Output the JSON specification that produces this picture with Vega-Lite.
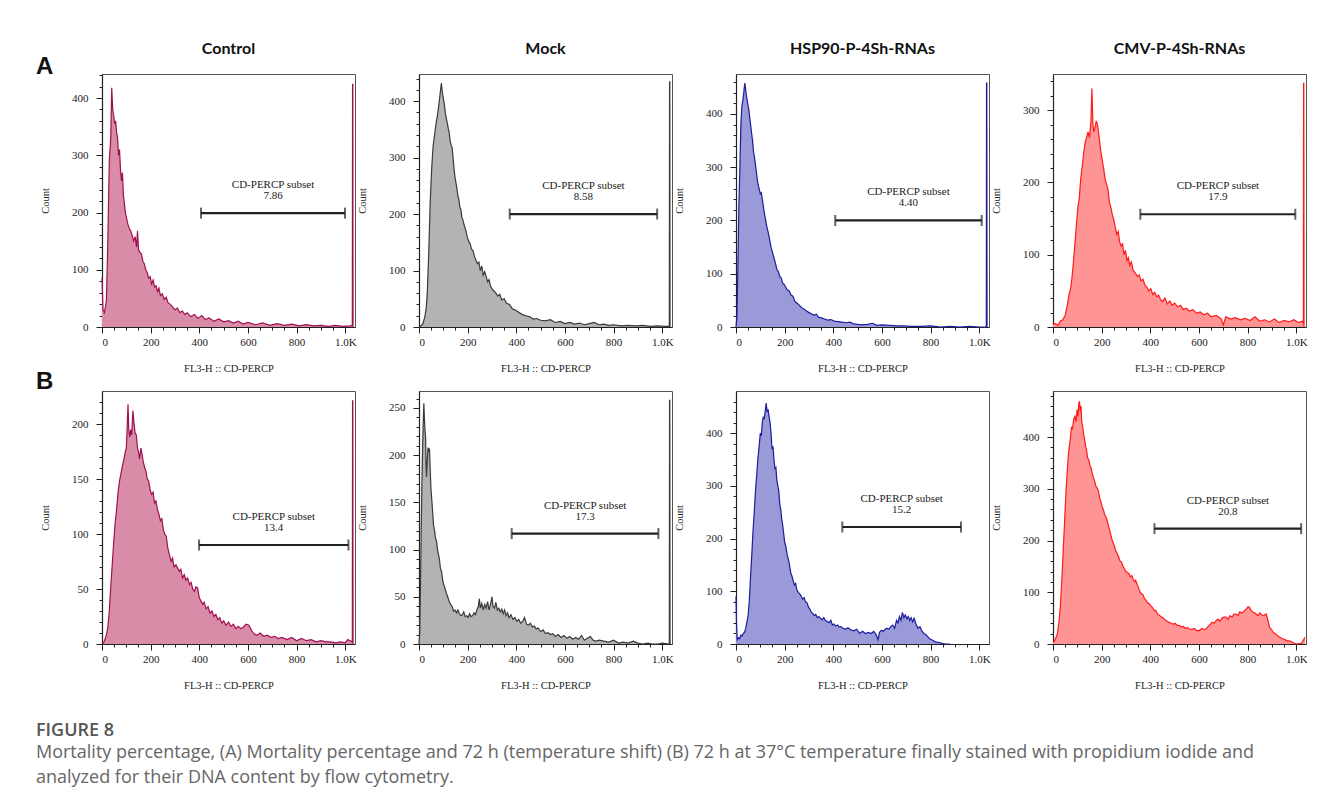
{
"$schema": "https://vega.github.io/schema/vega-lite/v6.json",
"background": "white",
"padding": {"left": 36, "top": 40, "right": 5, "bottom": 5},
"config": {
  "view": {"stroke": "#555", "strokeWidth": 1},
  "axis": {"labelFont": "'Liberation Serif', 'DejaVu Serif', serif", "labelFontSize": 11, "labelColor": "#222", "titleFont": "'Liberation Serif', 'DejaVu Serif', serif", "titleFontSize": 10.5, "titleFontWeight": "normal", "titleColor": "#222", "domainColor": "#222", "tickColor": "#222", "grid": false, "tickSize": 6, "domainWidth": 1.2, "zindex": 1},
  "axisY": {"labelPadding": 8, "titlePadding": 21},
  "axisX": {"labelPadding": 3, "titlePadding": 16},
  "title": {"font": "Lato", "fontSize": 16, "fontWeight": "bold", "color": "#111", "offset": 17}
},
"title": {"text": "FIGURE 8", "subtitle": ["Mortality percentage, (A) Mortality percentage and 72 h (temperature shift) (B) 72 h at 37°C temperature finally stained with propidium iodide and", "analyzed for their DNA content by flow cytometry."], "orient": "bottom", "anchor": "start", "frame": "bounds", "font": "Open Sans", "fontSize": 18, "fontWeight": 600, "color": "#555", "subtitleFont": "Open Sans", "subtitleFontSize": 18, "subtitleColor": "#666", "subtitleLineHeight": 25, "subtitlePadding": 4, "offset": 31},
"datasets": {
"A1": [{"x":0,"y":86},{"x":4,"y":30},{"x":10,"y":25},{"x":18,"y":45},{"x":24,"y":150},{"x":30,"y":290},{"x":36,"y":330},{"x":40,"y":418},{"x":44,"y":380},{"x":48,"y":370},{"x":52,"y":355},{"x":56,"y":360},{"x":60,"y":340},{"x":64,"y":330},{"x":68,"y":300},{"x":72,"y":310},{"x":76,"y":275},{"x":80,"y":255},{"x":84,"y":270},{"x":88,"y":230},{"x":92,"y":215},{"x":96,"y":200},{"x":100,"y":192},{"x":106,"y":180},{"x":112,"y":172},{"x":118,"y":168},{"x":124,"y":160},{"x":130,"y":150},{"x":136,"y":158},{"x":142,"y":140},{"x":146,"y":168},{"x":150,"y":135},{"x":156,"y":130},{"x":162,"y":128},{"x":168,"y":115},{"x":174,"y":110},{"x":180,"y":100},{"x":186,"y":95},{"x":192,"y":85},{"x":198,"y":88},{"x":204,"y":75},{"x":210,"y":82},{"x":216,"y":70},{"x":222,"y":72},{"x":228,"y":62},{"x":234,"y":68},{"x":240,"y":55},{"x":248,"y":58},{"x":256,"y":48},{"x":264,"y":52},{"x":272,"y":42},{"x":280,"y":40},{"x":290,"y":35},{"x":300,"y":30},{"x":310,"y":33},{"x":320,"y":25},{"x":330,"y":28},{"x":340,"y":22},{"x":350,"y":25},{"x":365,"y":18},{"x":380,"y":22},{"x":395,"y":15},{"x":410,"y":20},{"x":425,"y":13},{"x":440,"y":16},{"x":460,"y":10},{"x":480,"y":14},{"x":500,"y":9},{"x":520,"y":11},{"x":540,"y":7},{"x":560,"y":10},{"x":580,"y":5},{"x":600,"y":8},{"x":630,"y":4},{"x":660,"y":7},{"x":690,"y":3},{"x":720,"y":6},{"x":750,"y":3},{"x":780,"y":5},{"x":810,"y":2},{"x":840,"y":4},{"x":870,"y":2},{"x":900,"y":3},{"x":930,"y":1},{"x":960,"y":3},{"x":990,"y":1},{"x":1020,"y":2},{"x":1029,"y":3},{"x":1030,"y":424},{"x":1031,"y":424},{"x":1032,"y":0}],
"A2": [{"x":0,"y":0},{"x":8,"y":2},{"x":16,"y":6},{"x":24,"y":18},{"x":30,"y":35},{"x":34,"y":60},{"x":40,"y":130},{"x":46,"y":220},{"x":52,"y":280},{"x":58,"y":320},{"x":64,"y":340},{"x":70,"y":360},{"x":76,"y":375},{"x":82,"y":395},{"x":86,"y":410},{"x":90,"y":425},{"x":92,"y":432},{"x":96,"y":415},{"x":100,"y":405},{"x":104,"y":395},{"x":108,"y":380},{"x":112,"y":370},{"x":116,"y":362},{"x":120,"y":352},{"x":124,"y":345},{"x":128,"y":330},{"x":132,"y":322},{"x":136,"y":318},{"x":140,"y":300},{"x":144,"y":280},{"x":148,"y":265},{"x":152,"y":255},{"x":156,"y":245},{"x":160,"y":232},{"x":164,"y":225},{"x":168,"y":212},{"x":172,"y":208},{"x":176,"y":195},{"x":180,"y":190},{"x":186,"y":180},{"x":192,"y":172},{"x":198,"y":160},{"x":204,"y":152},{"x":210,"y":148},{"x":216,"y":138},{"x":222,"y":135},{"x":228,"y":125},{"x":234,"y":118},{"x":240,"y":112},{"x":246,"y":115},{"x":252,"y":100},{"x":258,"y":108},{"x":264,"y":92},{"x":270,"y":98},{"x":276,"y":90},{"x":282,"y":80},{"x":288,"y":84},{"x":294,"y":72},{"x":300,"y":68},{"x":308,"y":64},{"x":316,"y":60},{"x":324,"y":55},{"x":332,"y":58},{"x":340,"y":48},{"x":350,"y":50},{"x":360,"y":42},{"x":372,"y":40},{"x":384,"y":32},{"x":396,"y":30},{"x":410,"y":26},{"x":425,"y":22},{"x":440,"y":20},{"x":455,"y":18},{"x":470,"y":14},{"x":485,"y":15},{"x":500,"y":12},{"x":520,"y":11},{"x":540,"y":13},{"x":560,"y":8},{"x":580,"y":10},{"x":600,"y":6},{"x":620,"y":8},{"x":640,"y":5},{"x":660,"y":7},{"x":680,"y":4},{"x":700,"y":6},{"x":720,"y":8},{"x":740,"y":4},{"x":760,"y":5},{"x":780,"y":3},{"x":800,"y":4},{"x":830,"y":2},{"x":860,"y":3},{"x":890,"y":2},{"x":920,"y":3},{"x":950,"y":1},{"x":980,"y":2},{"x":1010,"y":1},{"x":1029,"y":1},{"x":1030,"y":434},{"x":1031,"y":434},{"x":1032,"y":0}],
"A3": [{"x":0,"y":0},{"x":4,"y":20},{"x":8,"y":120},{"x":12,"y":230},{"x":16,"y":300},{"x":20,"y":380},{"x":24,"y":414},{"x":28,"y":425},{"x":32,"y":440},{"x":36,"y":458},{"x":40,"y":445},{"x":44,"y":430},{"x":48,"y":420},{"x":52,"y":410},{"x":56,"y":395},{"x":60,"y":380},{"x":64,"y":364},{"x":68,"y":350},{"x":72,"y":330},{"x":76,"y":318},{"x":80,"y":305},{"x":84,"y":290},{"x":88,"y":275},{"x":92,"y":265},{"x":96,"y":258},{"x":100,"y":250},{"x":104,"y":252},{"x":108,"y":240},{"x":112,"y":228},{"x":116,"y":215},{"x":120,"y":205},{"x":126,"y":190},{"x":132,"y":178},{"x":138,"y":165},{"x":144,"y":150},{"x":150,"y":140},{"x":156,"y":130},{"x":162,"y":120},{"x":168,"y":108},{"x":174,"y":104},{"x":180,"y":95},{"x":186,"y":92},{"x":192,"y":82},{"x":198,"y":80},{"x":204,"y":75},{"x":210,"y":70},{"x":218,"y":68},{"x":226,"y":60},{"x":234,"y":58},{"x":242,"y":48},{"x":250,"y":45},{"x":258,"y":42},{"x":266,"y":38},{"x":274,"y":35},{"x":282,"y":33},{"x":290,"y":30},{"x":300,"y":27},{"x":310,"y":25},{"x":320,"y":22},{"x":330,"y":24},{"x":340,"y":18},{"x":352,"y":17},{"x":364,"y":15},{"x":376,"y":13},{"x":390,"y":14},{"x":404,"y":11},{"x":420,"y":10},{"x":436,"y":9},{"x":452,"y":8},{"x":468,"y":9},{"x":484,"y":6},{"x":500,"y":5},{"x":520,"y":4},{"x":540,"y":5},{"x":560,"y":7},{"x":580,"y":3},{"x":600,"y":4},{"x":630,"y":3},{"x":660,"y":2},{"x":690,"y":2},{"x":720,"y":1},{"x":760,"y":1},{"x":800,"y":2},{"x":840,"y":0},{"x":880,"y":1},{"x":920,"y":0},{"x":960,"y":1},{"x":1000,"y":0},{"x":1029,"y":0},{"x":1030,"y":458},{"x":1031,"y":458},{"x":1032,"y":0}],
"A4": [{"x":0,"y":3},{"x":10,"y":5},{"x":20,"y":2},{"x":30,"y":8},{"x":40,"y":10},{"x":50,"y":16},{"x":60,"y":32},{"x":66,"y":45},{"x":72,"y":52},{"x":78,"y":68},{"x":84,"y":90},{"x":90,"y":115},{"x":96,"y":140},{"x":102,"y":165},{"x":108,"y":178},{"x":114,"y":205},{"x":120,"y":222},{"x":126,"y":240},{"x":132,"y":255},{"x":138,"y":262},{"x":144,"y":270},{"x":150,"y":262},{"x":156,"y":285},{"x":160,"y":330},{"x":164,"y":280},{"x":168,"y":270},{"x":172,"y":275},{"x":178,"y":285},{"x":184,"y":278},{"x":190,"y":262},{"x":196,"y":244},{"x":202,"y":232},{"x":208,"y":220},{"x":214,"y":205},{"x":220,"y":198},{"x":226,"y":190},{"x":232,"y":172},{"x":238,"y":165},{"x":244,"y":155},{"x":250,"y":148},{"x":256,"y":138},{"x":262,"y":128},{"x":268,"y":132},{"x":274,"y":118},{"x":280,"y":112},{"x":286,"y":115},{"x":292,"y":100},{"x":298,"y":106},{"x":304,"y":92},{"x":310,"y":96},{"x":316,"y":85},{"x":322,"y":90},{"x":330,"y":78},{"x":338,"y":75},{"x":346,"y":70},{"x":354,"y":72},{"x":362,"y":64},{"x":370,"y":66},{"x":378,"y":58},{"x":386,"y":55},{"x":394,"y":50},{"x":402,"y":53},{"x":410,"y":45},{"x":418,"y":48},{"x":426,"y":42},{"x":434,"y":44},{"x":442,"y":38},{"x":450,"y":35},{"x":460,"y":40},{"x":470,"y":32},{"x":480,"y":36},{"x":490,"y":30},{"x":500,"y":33},{"x":512,"y":28},{"x":524,"y":30},{"x":536,"y":24},{"x":548,"y":26},{"x":560,"y":22},{"x":575,"y":24},{"x":590,"y":19},{"x":605,"y":21},{"x":620,"y":17},{"x":635,"y":19},{"x":650,"y":14},{"x":670,"y":16},{"x":690,"y":12},{"x":700,"y":3},{"x":710,"y":14},{"x":730,"y":11},{"x":750,"y":13},{"x":770,"y":10},{"x":790,"y":12},{"x":810,"y":9},{"x":830,"y":14},{"x":850,"y":8},{"x":870,"y":10},{"x":890,"y":7},{"x":910,"y":11},{"x":930,"y":6},{"x":950,"y":9},{"x":970,"y":7},{"x":990,"y":10},{"x":1010,"y":6},{"x":1025,"y":8},{"x":1029,"y":5},{"x":1030,"y":337},{"x":1031,"y":337},{"x":1032,"y":0}],
"B1": [{"x":0,"y":0},{"x":6,"y":1},{"x":12,"y":4},{"x":18,"y":8},{"x":24,"y":15},{"x":30,"y":30},{"x":36,"y":52},{"x":42,"y":72},{"x":48,"y":92},{"x":54,"y":110},{"x":60,"y":122},{"x":66,"y":138},{"x":72,"y":148},{"x":78,"y":155},{"x":84,"y":162},{"x":90,"y":168},{"x":96,"y":175},{"x":100,"y":178},{"x":104,"y":200},{"x":107,"y":218},{"x":110,"y":195},{"x":114,"y":188},{"x":118,"y":195},{"x":122,"y":190},{"x":127,"y":212},{"x":132,"y":200},{"x":136,"y":192},{"x":141,"y":190},{"x":146,"y":178},{"x":150,"y":175},{"x":154,"y":168},{"x":160,"y":178},{"x":165,"y":172},{"x":170,"y":165},{"x":176,"y":160},{"x":181,"y":157},{"x":186,"y":150},{"x":192,"y":148},{"x":198,"y":140},{"x":204,"y":136},{"x":210,"y":138},{"x":216,"y":128},{"x":222,"y":130},{"x":228,"y":122},{"x":234,"y":118},{"x":240,"y":112},{"x":246,"y":114},{"x":252,"y":104},{"x":258,"y":100},{"x":264,"y":98},{"x":270,"y":88},{"x":276,"y":82},{"x":284,"y":75},{"x":290,"y":78},{"x":296,"y":70},{"x":304,"y":72},{"x":311,"y":69},{"x":318,"y":66},{"x":324,"y":68},{"x":331,"y":60},{"x":338,"y":63},{"x":345,"y":58},{"x":352,"y":60},{"x":360,"y":54},{"x":366,"y":56},{"x":373,"y":50},{"x":380,"y":48},{"x":386,"y":52},{"x":393,"y":51},{"x":400,"y":42},{"x":407,"y":39},{"x":414,"y":36},{"x":420,"y":38},{"x":428,"y":32},{"x":436,"y":34},{"x":444,"y":28},{"x":452,"y":30},{"x":460,"y":25},{"x":468,"y":27},{"x":476,"y":22},{"x":484,"y":24},{"x":492,"y":19},{"x":500,"y":21},{"x":510,"y":17},{"x":520,"y":20},{"x":530,"y":16},{"x":540,"y":18},{"x":550,"y":14},{"x":560,"y":16},{"x":570,"y":14},{"x":580,"y":15},{"x":592,"y":18},{"x":604,"y":17},{"x":615,"y":12},{"x":626,"y":9},{"x":638,"y":8},{"x":650,"y":10},{"x":665,"y":7},{"x":680,"y":8},{"x":695,"y":6},{"x":710,"y":7},{"x":725,"y":5},{"x":740,"y":6},{"x":760,"y":4},{"x":780,"y":6},{"x":800,"y":3},{"x":820,"y":5},{"x":840,"y":3},{"x":860,"y":4},{"x":880,"y":2},{"x":900,"y":3},{"x":920,"y":2},{"x":940,"y":2},{"x":960,"y":1},{"x":980,"y":2},{"x":1000,"y":1},{"x":1010,"y":4},{"x":1020,"y":3},{"x":1029,"y":2},{"x":1030,"y":221},{"x":1031,"y":221},{"x":1032,"y":0}],
"B2": [{"x":0,"y":0},{"x":3,"y":10},{"x":6,"y":60},{"x":9,"y":120},{"x":12,"y":170},{"x":15,"y":210},{"x":18,"y":240},{"x":20,"y":255},{"x":22,"y":240},{"x":25,"y":225},{"x":27,"y":219},{"x":29,"y":190},{"x":31,"y":177},{"x":34,"y":195},{"x":37,"y":208},{"x":40,"y":205},{"x":43,"y":207},{"x":46,"y":185},{"x":49,"y":165},{"x":52,"y":155},{"x":56,"y":140},{"x":60,"y":125},{"x":64,"y":120},{"x":68,"y":112},{"x":72,"y":109},{"x":76,"y":100},{"x":80,"y":95},{"x":84,"y":90},{"x":88,"y":80},{"x":92,"y":78},{"x":96,"y":70},{"x":100,"y":64},{"x":106,"y":60},{"x":112,"y":54},{"x":118,"y":50},{"x":124,"y":45},{"x":130,"y":42},{"x":136,"y":40},{"x":142,"y":35},{"x":148,"y":36},{"x":154,"y":33},{"x":160,"y":36},{"x":166,"y":32},{"x":172,"y":30},{"x":178,"y":31},{"x":184,"y":34},{"x":190,"y":29},{"x":196,"y":30},{"x":202,"y":28},{"x":208,"y":32},{"x":214,"y":29},{"x":220,"y":30},{"x":226,"y":33},{"x":232,"y":31},{"x":238,"y":36},{"x":244,"y":40},{"x":248,"y":48},{"x":252,"y":38},{"x":258,"y":43},{"x":264,"y":36},{"x":270,"y":42},{"x":276,"y":38},{"x":282,"y":45},{"x":288,"y":36},{"x":294,"y":42},{"x":300,"y":50},{"x":304,"y":40},{"x":310,"y":38},{"x":316,"y":44},{"x":322,"y":36},{"x":328,"y":38},{"x":334,"y":34},{"x":340,"y":37},{"x":346,"y":32},{"x":352,"y":36},{"x":358,"y":30},{"x":364,"y":33},{"x":370,"y":28},{"x":378,"y":31},{"x":386,"y":26},{"x":394,"y":28},{"x":402,"y":24},{"x":410,"y":26},{"x":418,"y":22},{"x":426,"y":24},{"x":434,"y":28},{"x":442,"y":21},{"x":450,"y":20},{"x":458,"y":22},{"x":466,"y":18},{"x":474,"y":19},{"x":482,"y":16},{"x":490,"y":17},{"x":500,"y":13},{"x":510,"y":15},{"x":520,"y":11},{"x":530,"y":12},{"x":540,"y":10},{"x":550,"y":11},{"x":560,"y":8},{"x":572,"y":10},{"x":584,"y":7},{"x":596,"y":9},{"x":608,"y":6},{"x":620,"y":8},{"x":632,"y":5},{"x":644,"y":7},{"x":656,"y":5},{"x":668,"y":9},{"x":680,"y":4},{"x":692,"y":6},{"x":704,"y":8},{"x":716,"y":4},{"x":728,"y":3},{"x":740,"y":4},{"x":760,"y":3},{"x":780,"y":2},{"x":800,"y":4},{"x":820,"y":1},{"x":840,"y":2},{"x":860,"y":1},{"x":880,"y":3},{"x":900,"y":1},{"x":920,"y":0},{"x":940,"y":1},{"x":960,"y":0},{"x":980,"y":0},{"x":1000,"y":1},{"x":1029,"y":0},{"x":1030,"y":258},{"x":1031,"y":258},{"x":1032,"y":0}],
"B3": [{"x":0,"y":90},{"x":2,"y":40},{"x":5,"y":8},{"x":10,"y":12},{"x":15,"y":10},{"x":20,"y":17},{"x":25,"y":15},{"x":30,"y":20},{"x":35,"y":22},{"x":40,"y":30},{"x":45,"y":42},{"x":50,"y":55},{"x":55,"y":85},{"x":60,"y":130},{"x":65,"y":170},{"x":70,"y":215},{"x":75,"y":250},{"x":80,"y":290},{"x":85,"y":320},{"x":90,"y":352},{"x":95,"y":375},{"x":100,"y":400},{"x":104,"y":395},{"x":108,"y":420},{"x":112,"y":430},{"x":116,"y":428},{"x":120,"y":441},{"x":124,"y":457},{"x":128,"y":440},{"x":132,"y":445},{"x":136,"y":432},{"x":140,"y":420},{"x":144,"y":400},{"x":148,"y":370},{"x":152,"y":375},{"x":156,"y":350},{"x":160,"y":333},{"x":164,"y":335},{"x":168,"y":310},{"x":172,"y":300},{"x":176,"y":290},{"x":180,"y":265},{"x":184,"y":255},{"x":188,"y":237},{"x":192,"y":225},{"x":196,"y":210},{"x":200,"y":193},{"x":205,"y":185},{"x":210,"y":170},{"x":215,"y":161},{"x":220,"y":150},{"x":225,"y":135},{"x":230,"y":129},{"x":235,"y":120},{"x":240,"y":112},{"x":245,"y":115},{"x":250,"y":103},{"x":256,"y":98},{"x":262,"y":95},{"x":268,"y":91},{"x":274,"y":85},{"x":280,"y":88},{"x":286,"y":80},{"x":292,"y":78},{"x":298,"y":70},{"x":304,"y":66},{"x":310,"y":60},{"x":316,"y":58},{"x":322,"y":54},{"x":328,"y":56},{"x":334,"y":50},{"x":340,"y":52},{"x":347,"y":49},{"x":354,"y":46},{"x":361,"y":50},{"x":368,"y":44},{"x":375,"y":43},{"x":382,"y":40},{"x":390,"y":45},{"x":396,"y":36},{"x":403,"y":38},{"x":410,"y":34},{"x":418,"y":36},{"x":424,"y":32},{"x":431,"y":33},{"x":440,"y":30},{"x":450,"y":28},{"x":460,"y":31},{"x":472,"y":27},{"x":484,"y":25},{"x":496,"y":28},{"x":508,"y":20},{"x":520,"y":24},{"x":532,"y":20},{"x":544,"y":22},{"x":556,"y":20},{"x":566,"y":24},{"x":576,"y":18},{"x":584,"y":8},{"x":590,"y":22},{"x":598,"y":26},{"x":605,"y":24},{"x":611,"y":27},{"x":620,"y":30},{"x":628,"y":28},{"x":636,"y":33},{"x":644,"y":36},{"x":652,"y":30},{"x":660,"y":45},{"x":666,"y":40},{"x":672,"y":52},{"x":678,"y":45},{"x":684,"y":60},{"x":690,"y":50},{"x":696,"y":55},{"x":702,"y":48},{"x":708,"y":52},{"x":714,"y":45},{"x":720,"y":50},{"x":726,"y":42},{"x":732,"y":49},{"x":740,"y":38},{"x":748,"y":30},{"x":756,"y":33},{"x":764,"y":25},{"x":772,"y":20},{"x":780,"y":18},{"x":788,"y":14},{"x":796,"y":10},{"x":804,"y":8},{"x":812,"y":6},{"x":820,"y":4},{"x":830,"y":3},{"x":840,"y":2},{"x":850,"y":1},{"x":860,"y":0},{"x":880,"y":0}],
"B4": [{"x":0,"y":3},{"x":6,"y":6},{"x":12,"y":12},{"x":18,"y":20},{"x":24,"y":40},{"x":30,"y":71},{"x":36,"y":120},{"x":42,"y":180},{"x":48,"y":240},{"x":54,"y":300},{"x":58,"y":330},{"x":64,"y":370},{"x":68,"y":385},{"x":72,"y":400},{"x":76,"y":420},{"x":80,"y":415},{"x":85,"y":434},{"x":90,"y":440},{"x":95,"y":430},{"x":99,"y":453},{"x":103,"y":440},{"x":106,"y":465},{"x":109,"y":469},{"x":112,"y":450},{"x":115,"y":460},{"x":118,"y":430},{"x":122,"y":420},{"x":126,"y":405},{"x":130,"y":395},{"x":134,"y":382},{"x":138,"y":375},{"x":142,"y":360},{"x":147,"y":356},{"x":152,"y":345},{"x":157,"y":340},{"x":161,"y":330},{"x":166,"y":322},{"x":171,"y":315},{"x":176,"y":305},{"x":182,"y":301},{"x":187,"y":295},{"x":192,"y":282},{"x":197,"y":275},{"x":202,"y":265},{"x":207,"y":260},{"x":212,"y":250},{"x":218,"y":245},{"x":223,"y":239},{"x":228,"y":228},{"x":233,"y":220},{"x":238,"y":210},{"x":243,"y":201},{"x":248,"y":195},{"x":253,"y":188},{"x":258,"y":180},{"x":264,"y":175},{"x":270,"y":168},{"x":276,"y":160},{"x":282,"y":158},{"x":288,"y":150},{"x":294,"y":145},{"x":300,"y":140},{"x":306,"y":138},{"x":312,"y":136},{"x":318,"y":130},{"x":324,"y":132},{"x":330,"y":125},{"x":336,"y":120},{"x":340,"y":123},{"x":346,"y":115},{"x":352,"y":108},{"x":358,"y":100},{"x":364,"y":97},{"x":370,"y":95},{"x":376,"y":88},{"x":382,"y":85},{"x":388,"y":80},{"x":395,"y":78},{"x":402,"y":74},{"x":410,"y":70},{"x":416,"y":65},{"x":422,"y":65},{"x":430,"y":58},{"x":438,"y":55},{"x":446,"y":52},{"x":454,"y":50},{"x":462,"y":46},{"x":470,"y":44},{"x":477,"y":42},{"x":486,"y":40},{"x":494,"y":38},{"x":502,"y":40},{"x":510,"y":36},{"x":519,"y":36},{"x":528,"y":33},{"x":536,"y":34},{"x":544,"y":30},{"x":552,"y":32},{"x":560,"y":29},{"x":570,"y":28},{"x":580,"y":30},{"x":590,"y":26},{"x":601,"y":26},{"x":612,"y":30},{"x":622,"y":28},{"x":629,"y":29},{"x":638,"y":34},{"x":646,"y":38},{"x":654,"y":42},{"x":662,"y":40},{"x":670,"y":45},{"x":678,"y":48},{"x":686,"y":44},{"x":694,"y":50},{"x":702,"y":52},{"x":711,"y":52},{"x":720,"y":48},{"x":728,"y":55},{"x":736,"y":52},{"x":744,"y":58},{"x":752,"y":58},{"x":760,"y":55},{"x":768,"y":62},{"x":776,"y":60},{"x":780,"y":61},{"x":788,"y":65},{"x":796,"y":68},{"x":802,"y":72},{"x":807,"y":71},{"x":814,"y":65},{"x":822,"y":62},{"x":830,"y":60},{"x":835,"y":58},{"x":842,"y":55},{"x":850,"y":60},{"x":858,"y":56},{"x":866,"y":55},{"x":876,"y":58},{"x":884,"y":45},{"x":890,"y":32},{"x":898,"y":28},{"x":906,"y":22},{"x":917,"y":19},{"x":926,"y":15},{"x":936,"y":12},{"x":945,"y":10},{"x":955,"y":8},{"x":964,"y":6},{"x":973,"y":6},{"x":982,"y":4},{"x":990,"y":2},{"x":1000,"y":0},{"x":1010,"y":1},{"x":1021,"y":1},{"x":1030,"y":8},{"x":1036,"y":13}],
"GA1": [{"x1":407,"x2":999,"xm":703,"y":199,"label":"CD-PERCP subset\n7.86"}],
"GA2": [{"x1":373,"x2":979,"xm":676,"y":200,"label":"CD-PERCP subset\n8.58"}],
"GA3": [{"x1":408,"x2":1010,"xm":709,"y":200,"label":"CD-PERCP subset\n4.40"}],
"GA4": [{"x1":359,"x2":996,"xm":678,"y":156,"label":"CD-PERCP subset\n17.9"}],
"GB1": [{"x1":399,"x2":1013,"xm":706,"y":90,"label":"CD-PERCP subset\n13.4"}],
"GB2": [{"x1":381,"x2":984,"xm":683,"y":117,"label":"CD-PERCP subset\n17.3"}],
"GB3": [{"x1":437,"x2":925,"xm":681,"y":222,"label":"CD-PERCP subset\n15.2"}],
"GB4": [{"x1":417,"x2":1020,"xm":719,"y":223,"label":"CD-PERCP subset\n20.8"}]
},
"spacing": -5,
"vconcat": [
{"title": {"text": "A", "orient": "top", "anchor": "start", "frame": "bounds", "font": "Liberation Sans", "fontSize": 24, "fontWeight": "bold", "color": "#111", "offset": 0, "dy": 38, "dx": -4},
 "spacing": 0,
 "hconcat": [
  {"width": 253, "height": 253, "title": {"text": "Control"}, "resolve": {"axis": {"x": "independent", "y": "independent"}},
   "layer": [
    {"data": {"name": "A1"}, "mark": {"type": "area", "fill": "#d98ca8", "fillOpacity": 1, "line": {"stroke": "#a01050", "strokeWidth": 1.2}},
     "encoding": {"x": {"field": "x", "type": "quantitative", "scale": {"domain": [0, 1040], "nice": false}, "axis": {"values": [0,200,400,600,800,1000], "labelExpr": "datum.value >= 1000 ? '1.0K' : datum.value", "title": "FL3-H :: CD-PERCP"}},
                  "y": {"field": "y", "type": "quantitative", "scale": {"domain": [0, 442], "nice": false}, "axis": {"values": [0,100,200,300,400], "title": "Count"}}}},
    {"data": {"name": "GA1"}, "mark": {"type": "rule", "color": "#222", "strokeWidth": 2.2},
     "encoding": {"x": {"field": "x1", "type": "quantitative", "axis": {"orient": "bottom", "values": [50,100,150,250,300,350,450,500,550,650,700,750,850,900,950], "labels": false, "domain": false, "tickSize": 3, "title": null}}, "x2": {"field": "x2"},
                  "y": {"field": "y", "type": "quantitative", "axis": {"orient": "left", "values": [20,40,60,80,120,140,160,180,220,240,260,280,320,340,360,380,420,440], "labels": false, "domain": false, "tickSize": 3, "title": null}}}},
    {"data": {"name": "GA1"}, "mark": {"type": "tick", "orient": "vertical", "size": 11, "thickness": 2, "color": "#222"}, "encoding": {"x": {"field": "x1", "type": "quantitative", "axis": null}, "y": {"field": "y", "type": "quantitative", "axis": null}}},
    {"data": {"name": "GA1"}, "mark": {"type": "tick", "orient": "vertical", "size": 11, "thickness": 2, "color": "#222"}, "encoding": {"x": {"field": "x2", "type": "quantitative", "axis": null}, "y": {"field": "y", "type": "quantitative", "axis": null}}},
    {"data": {"name": "GA1"}, "mark": {"type": "text", "font": "'Liberation Serif', 'DejaVu Serif', serif", "fontSize": 11, "lineBreak": "\n", "lineHeight": 11, "color": "#222", "baseline": "bottom", "dy": -23}, "encoding": {"x": {"field": "xm", "type": "quantitative", "axis": null}, "y": {"field": "y", "type": "quantitative", "axis": null}, "text": {"field": "label"}}}
   ]},
  {"width": 253, "height": 253, "title": {"text": "Mock"}, "resolve": {"axis": {"x": "independent", "y": "independent"}},
   "layer": [
    {"data": {"name": "A2"}, "mark": {"type": "area", "fill": "#b3b3b3", "fillOpacity": 1, "line": {"stroke": "#3a3a3a", "strokeWidth": 1.2}},
     "encoding": {"x": {"field": "x", "type": "quantitative", "scale": {"domain": [0, 1040], "nice": false}, "axis": {"values": [0,200,400,600,800,1000], "labelExpr": "datum.value >= 1000 ? '1.0K' : datum.value", "title": "FL3-H :: CD-PERCP"}},
                  "y": {"field": "y", "type": "quantitative", "scale": {"domain": [0, 448], "nice": false}, "axis": {"values": [0,100,200,300,400], "title": "Count"}}}},
    {"data": {"name": "GA2"}, "mark": {"type": "rule", "color": "#222", "strokeWidth": 2.2},
     "encoding": {"x": {"field": "x1", "type": "quantitative", "axis": {"orient": "bottom", "values": [50,100,150,250,300,350,450,500,550,650,700,750,850,900,950], "labels": false, "domain": false, "tickSize": 3, "title": null}}, "x2": {"field": "x2"},
                  "y": {"field": "y", "type": "quantitative", "axis": {"orient": "left", "values": [20,40,60,80,120,140,160,180,220,240,260,280,320,340,360,380,420,440], "labels": false, "domain": false, "tickSize": 3, "title": null}}}},
    {"data": {"name": "GA2"}, "mark": {"type": "tick", "orient": "vertical", "size": 11, "thickness": 2, "color": "#222"}, "encoding": {"x": {"field": "x1", "type": "quantitative", "axis": null}, "y": {"field": "y", "type": "quantitative", "axis": null}}},
    {"data": {"name": "GA2"}, "mark": {"type": "tick", "orient": "vertical", "size": 11, "thickness": 2, "color": "#222"}, "encoding": {"x": {"field": "x2", "type": "quantitative", "axis": null}, "y": {"field": "y", "type": "quantitative", "axis": null}}},
    {"data": {"name": "GA2"}, "mark": {"type": "text", "font": "'Liberation Serif', 'DejaVu Serif', serif", "fontSize": 11, "lineBreak": "\n", "lineHeight": 11, "color": "#222", "baseline": "bottom", "dy": -23}, "encoding": {"x": {"field": "xm", "type": "quantitative", "axis": null}, "y": {"field": "y", "type": "quantitative", "axis": null}, "text": {"field": "label"}}}
   ]},
  {"width": 253, "height": 253, "title": {"text": "HSP90-P-4Sh-RNAs"}, "resolve": {"axis": {"x": "independent", "y": "independent"}},
   "layer": [
    {"data": {"name": "A3"}, "mark": {"type": "area", "fill": "#9a9ad8", "fillOpacity": 1, "line": {"stroke": "#1c1c9c", "strokeWidth": 1.2}},
     "encoding": {"x": {"field": "x", "type": "quantitative", "scale": {"domain": [0, 1040], "nice": false}, "axis": {"values": [0,200,400,600,800,1000], "labelExpr": "datum.value >= 1000 ? '1.0K' : datum.value", "title": "FL3-H :: CD-PERCP"}},
                  "y": {"field": "y", "type": "quantitative", "scale": {"domain": [0, 475], "nice": false}, "axis": {"values": [0,100,200,300,400], "title": "Count"}}}},
    {"data": {"name": "GA3"}, "mark": {"type": "rule", "color": "#222", "strokeWidth": 2.2},
     "encoding": {"x": {"field": "x1", "type": "quantitative", "axis": {"orient": "bottom", "values": [50,100,150,250,300,350,450,500,550,650,700,750,850,900,950], "labels": false, "domain": false, "tickSize": 3, "title": null}}, "x2": {"field": "x2"},
                  "y": {"field": "y", "type": "quantitative", "axis": {"orient": "left", "values": [20,40,60,80,120,140,160,180,220,240,260,280,320,340,360,380,420,440,460], "labels": false, "domain": false, "tickSize": 3, "title": null}}}},
    {"data": {"name": "GA3"}, "mark": {"type": "tick", "orient": "vertical", "size": 11, "thickness": 2, "color": "#222"}, "encoding": {"x": {"field": "x1", "type": "quantitative", "axis": null}, "y": {"field": "y", "type": "quantitative", "axis": null}}},
    {"data": {"name": "GA3"}, "mark": {"type": "tick", "orient": "vertical", "size": 11, "thickness": 2, "color": "#222"}, "encoding": {"x": {"field": "x2", "type": "quantitative", "axis": null}, "y": {"field": "y", "type": "quantitative", "axis": null}}},
    {"data": {"name": "GA3"}, "mark": {"type": "text", "font": "'Liberation Serif', 'DejaVu Serif', serif", "fontSize": 11, "lineBreak": "\n", "lineHeight": 11, "color": "#222", "baseline": "bottom", "dy": -23}, "encoding": {"x": {"field": "xm", "type": "quantitative", "axis": null}, "y": {"field": "y", "type": "quantitative", "axis": null}, "text": {"field": "label"}}}
   ]},
  {"width": 253, "height": 253, "title": {"text": "CMV-P-4Sh-RNAs"}, "resolve": {"axis": {"x": "independent", "y": "independent"}},
   "layer": [
    {"data": {"name": "A4"}, "mark": {"type": "area", "fill": "#ff9494", "fillOpacity": 1, "line": {"stroke": "#ff1a1a", "strokeWidth": 1.2}},
     "encoding": {"x": {"field": "x", "type": "quantitative", "scale": {"domain": [0, 1040], "nice": false}, "axis": {"values": [0,200,400,600,800,1000], "labelExpr": "datum.value >= 1000 ? '1.0K' : datum.value", "title": "FL3-H :: CD-PERCP"}},
                  "y": {"field": "y", "type": "quantitative", "scale": {"domain": [0, 350], "nice": false}, "axis": {"values": [0,100,200,300], "title": "Count"}}}},
    {"data": {"name": "GA4"}, "mark": {"type": "rule", "color": "#222", "strokeWidth": 2.2},
     "encoding": {"x": {"field": "x1", "type": "quantitative", "axis": {"orient": "bottom", "values": [50,100,150,250,300,350,450,500,550,650,700,750,850,900,950], "labels": false, "domain": false, "tickSize": 3, "title": null}}, "x2": {"field": "x2"},
                  "y": {"field": "y", "type": "quantitative", "axis": {"orient": "left", "values": [20,40,60,80,120,140,160,180,220,240,260,280,320,340], "labels": false, "domain": false, "tickSize": 3, "title": null}}}},
    {"data": {"name": "GA4"}, "mark": {"type": "tick", "orient": "vertical", "size": 11, "thickness": 2, "color": "#222"}, "encoding": {"x": {"field": "x1", "type": "quantitative", "axis": null}, "y": {"field": "y", "type": "quantitative", "axis": null}}},
    {"data": {"name": "GA4"}, "mark": {"type": "tick", "orient": "vertical", "size": 11, "thickness": 2, "color": "#222"}, "encoding": {"x": {"field": "x2", "type": "quantitative", "axis": null}, "y": {"field": "y", "type": "quantitative", "axis": null}}},
    {"data": {"name": "GA4"}, "mark": {"type": "text", "font": "'Liberation Serif', 'DejaVu Serif', serif", "fontSize": 11, "lineBreak": "\n", "lineHeight": 11, "color": "#222", "baseline": "bottom", "dy": -23}, "encoding": {"x": {"field": "xm", "type": "quantitative", "axis": null}, "y": {"field": "y", "type": "quantitative", "axis": null}, "text": {"field": "label"}}}
   ]}
 ]},
{"title": {"text": "B", "orient": "top", "anchor": "start", "frame": "bounds", "font": "Liberation Sans", "fontSize": 24, "fontWeight": "bold", "color": "#111", "offset": 0, "dy": 3, "dx": -4},
 "spacing": 0,
 "hconcat": [
  {"width": 253, "height": 253, "resolve": {"axis": {"x": "independent", "y": "independent"}},
   "layer": [
    {"data": {"name": "B1"}, "mark": {"type": "area", "fill": "#d98ca8", "fillOpacity": 1, "line": {"stroke": "#a01050", "strokeWidth": 1.2}},
     "encoding": {"x": {"field": "x", "type": "quantitative", "scale": {"domain": [0, 1040], "nice": false}, "axis": {"values": [0,200,400,600,800,1000], "labelExpr": "datum.value >= 1000 ? '1.0K' : datum.value", "title": "FL3-H :: CD-PERCP"}},
                  "y": {"field": "y", "type": "quantitative", "scale": {"domain": [0, 230], "nice": false}, "axis": {"values": [0,50,100,150,200], "title": "Count"}}}},
    {"data": {"name": "GB1"}, "mark": {"type": "rule", "color": "#222", "strokeWidth": 2.2},
     "encoding": {"x": {"field": "x1", "type": "quantitative", "axis": {"orient": "bottom", "values": [50,100,150,250,300,350,450,500,550,650,700,750,850,900,950], "labels": false, "domain": false, "tickSize": 3, "title": null}}, "x2": {"field": "x2"},
                  "y": {"field": "y", "type": "quantitative", "axis": {"orient": "left", "values": [10,20,30,40,60,70,80,90,110,120,130,140,160,170,180,190,210,220], "labels": false, "domain": false, "tickSize": 3, "title": null}}}},
    {"data": {"name": "GB1"}, "mark": {"type": "tick", "orient": "vertical", "size": 11, "thickness": 2, "color": "#222"}, "encoding": {"x": {"field": "x1", "type": "quantitative", "axis": null}, "y": {"field": "y", "type": "quantitative", "axis": null}}},
    {"data": {"name": "GB1"}, "mark": {"type": "tick", "orient": "vertical", "size": 11, "thickness": 2, "color": "#222"}, "encoding": {"x": {"field": "x2", "type": "quantitative", "axis": null}, "y": {"field": "y", "type": "quantitative", "axis": null}}},
    {"data": {"name": "GB1"}, "mark": {"type": "text", "font": "'Liberation Serif', 'DejaVu Serif', serif", "fontSize": 11, "lineBreak": "\n", "lineHeight": 11, "color": "#222", "baseline": "bottom", "dy": -23}, "encoding": {"x": {"field": "xm", "type": "quantitative", "axis": null}, "y": {"field": "y", "type": "quantitative", "axis": null}, "text": {"field": "label"}}}
   ]},
  {"width": 253, "height": 253, "resolve": {"axis": {"x": "independent", "y": "independent"}},
   "layer": [
    {"data": {"name": "B2"}, "mark": {"type": "area", "fill": "#b3b3b3", "fillOpacity": 1, "line": {"stroke": "#3a3a3a", "strokeWidth": 1.2}},
     "encoding": {"x": {"field": "x", "type": "quantitative", "scale": {"domain": [0, 1040], "nice": false}, "axis": {"values": [0,200,400,600,800,1000], "labelExpr": "datum.value >= 1000 ? '1.0K' : datum.value", "title": "FL3-H :: CD-PERCP"}},
                  "y": {"field": "y", "type": "quantitative", "scale": {"domain": [0, 268], "nice": false}, "axis": {"values": [0,50,100,150,200,250], "title": "Count"}}}},
    {"data": {"name": "GB2"}, "mark": {"type": "rule", "color": "#222", "strokeWidth": 2.2},
     "encoding": {"x": {"field": "x1", "type": "quantitative", "axis": {"orient": "bottom", "values": [50,100,150,250,300,350,450,500,550,650,700,750,850,900,950], "labels": false, "domain": false, "tickSize": 3, "title": null}}, "x2": {"field": "x2"},
                  "y": {"field": "y", "type": "quantitative", "axis": {"orient": "left", "values": [10,20,30,40,60,70,80,90,110,120,130,140,160,170,180,190,210,220,230,240,260], "labels": false, "domain": false, "tickSize": 3, "title": null}}}},
    {"data": {"name": "GB2"}, "mark": {"type": "tick", "orient": "vertical", "size": 11, "thickness": 2, "color": "#222"}, "encoding": {"x": {"field": "x1", "type": "quantitative", "axis": null}, "y": {"field": "y", "type": "quantitative", "axis": null}}},
    {"data": {"name": "GB2"}, "mark": {"type": "tick", "orient": "vertical", "size": 11, "thickness": 2, "color": "#222"}, "encoding": {"x": {"field": "x2", "type": "quantitative", "axis": null}, "y": {"field": "y", "type": "quantitative", "axis": null}}},
    {"data": {"name": "GB2"}, "mark": {"type": "text", "font": "'Liberation Serif', 'DejaVu Serif', serif", "fontSize": 11, "lineBreak": "\n", "lineHeight": 11, "color": "#222", "baseline": "bottom", "dy": -23}, "encoding": {"x": {"field": "xm", "type": "quantitative", "axis": null}, "y": {"field": "y", "type": "quantitative", "axis": null}, "text": {"field": "label"}}}
   ]},
  {"width": 253, "height": 253, "resolve": {"axis": {"x": "independent", "y": "independent"}},
   "layer": [
    {"data": {"name": "B3"}, "mark": {"type": "area", "fill": "#9a9ad8", "fillOpacity": 1, "line": {"stroke": "#1c1c9c", "strokeWidth": 1.2}},
     "encoding": {"x": {"field": "x", "type": "quantitative", "scale": {"domain": [0, 1040], "nice": false}, "axis": {"values": [0,200,400,600,800,1000], "labelExpr": "datum.value >= 1000 ? '1.0K' : datum.value", "title": "FL3-H :: CD-PERCP"}},
                  "y": {"field": "y", "type": "quantitative", "scale": {"domain": [0, 480], "nice": false}, "axis": {"values": [0,100,200,300,400], "title": "Count"}}}},
    {"data": {"name": "GB3"}, "mark": {"type": "rule", "color": "#222", "strokeWidth": 2.2},
     "encoding": {"x": {"field": "x1", "type": "quantitative", "axis": {"orient": "bottom", "values": [50,100,150,250,300,350,450,500,550,650,700,750,850,900,950], "labels": false, "domain": false, "tickSize": 3, "title": null}}, "x2": {"field": "x2"},
                  "y": {"field": "y", "type": "quantitative", "axis": {"orient": "left", "values": [20,40,60,80,120,140,160,180,220,240,260,280,320,340,360,380,420,440,460], "labels": false, "domain": false, "tickSize": 3, "title": null}}}},
    {"data": {"name": "GB3"}, "mark": {"type": "tick", "orient": "vertical", "size": 11, "thickness": 2, "color": "#222"}, "encoding": {"x": {"field": "x1", "type": "quantitative", "axis": null}, "y": {"field": "y", "type": "quantitative", "axis": null}}},
    {"data": {"name": "GB3"}, "mark": {"type": "tick", "orient": "vertical", "size": 11, "thickness": 2, "color": "#222"}, "encoding": {"x": {"field": "x2", "type": "quantitative", "axis": null}, "y": {"field": "y", "type": "quantitative", "axis": null}}},
    {"data": {"name": "GB3"}, "mark": {"type": "text", "font": "'Liberation Serif', 'DejaVu Serif', serif", "fontSize": 11, "lineBreak": "\n", "lineHeight": 11, "color": "#222", "baseline": "bottom", "dy": -23}, "encoding": {"x": {"field": "xm", "type": "quantitative", "axis": null}, "y": {"field": "y", "type": "quantitative", "axis": null}, "text": {"field": "label"}}}
   ]},
  {"width": 253, "height": 253, "resolve": {"axis": {"x": "independent", "y": "independent"}},
   "layer": [
    {"data": {"name": "B4"}, "mark": {"type": "area", "fill": "#ff9494", "fillOpacity": 1, "line": {"stroke": "#ff1a1a", "strokeWidth": 1.2}},
     "encoding": {"x": {"field": "x", "type": "quantitative", "scale": {"domain": [0, 1040], "nice": false}, "axis": {"values": [0,200,400,600,800,1000], "labelExpr": "datum.value >= 1000 ? '1.0K' : datum.value", "title": "FL3-H :: CD-PERCP"}},
                  "y": {"field": "y", "type": "quantitative", "scale": {"domain": [0, 489], "nice": false}, "axis": {"values": [0,100,200,300,400], "title": "Count"}}}},
    {"data": {"name": "GB4"}, "mark": {"type": "rule", "color": "#222", "strokeWidth": 2.2},
     "encoding": {"x": {"field": "x1", "type": "quantitative", "axis": {"orient": "bottom", "values": [50,100,150,250,300,350,450,500,550,650,700,750,850,900,950], "labels": false, "domain": false, "tickSize": 3, "title": null}}, "x2": {"field": "x2"},
                  "y": {"field": "y", "type": "quantitative", "axis": {"orient": "left", "values": [20,40,60,80,120,140,160,180,220,240,260,280,320,340,360,380,420,440,460,480], "labels": false, "domain": false, "tickSize": 3, "title": null}}}},
    {"data": {"name": "GB4"}, "mark": {"type": "tick", "orient": "vertical", "size": 11, "thickness": 2, "color": "#222"}, "encoding": {"x": {"field": "x1", "type": "quantitative", "axis": null}, "y": {"field": "y", "type": "quantitative", "axis": null}}},
    {"data": {"name": "GB4"}, "mark": {"type": "tick", "orient": "vertical", "size": 11, "thickness": 2, "color": "#222"}, "encoding": {"x": {"field": "x2", "type": "quantitative", "axis": null}, "y": {"field": "y", "type": "quantitative", "axis": null}}},
    {"data": {"name": "GB4"}, "mark": {"type": "text", "font": "'Liberation Serif', 'DejaVu Serif', serif", "fontSize": 11, "lineBreak": "\n", "lineHeight": 11, "color": "#222", "baseline": "bottom", "dy": -23}, "encoding": {"x": {"field": "xm", "type": "quantitative", "axis": null}, "y": {"field": "y", "type": "quantitative", "axis": null}, "text": {"field": "label"}}}
   ]}
 ]}
]
}
